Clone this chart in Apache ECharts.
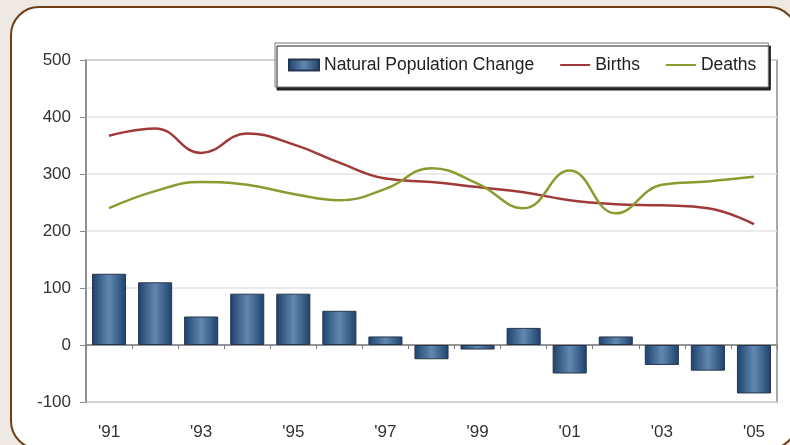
<!DOCTYPE html>
<html lang="en">
<head>
    <meta charset="utf-8">
    <style>
        html, body { margin: 0; padding: 0; background: #efe9e3; }
        #chart { width: 790px; height: 445px; }
    </style>
</head>
<body>
<div id="chart"></div>
<script type="text/javascript" src="https://cdn.jsdelivr.net/npm/echarts@6/dist/echarts.min.js"></script>
<script type="text/javascript">

var years = ["'91", "'92", "'93", "'94", "'95", "'96", "'97", "'98", "'99", "'00", "'01", "'02", "'03", "'04", "'05"];
var naturalChange = [125, 110, 50, 90, 90, 60, 15, -25, -8, 30, -50, 15, -35, -45, -85];
var births = [367, 380, 337, 371, 352, 320, 292, 286, 277, 268, 254, 247, 245, 240, 212];
var deaths = [240, 270, 286, 281, 265, 254, 274, 310, 283, 240, 306, 231, 281, 287, 295];

var chart = echarts.init(document.getElementById('chart'));

var barColor = new echarts.graphic.LinearGradient(0, 0, 1, 0, [
    { offset: 0, color: '#1d416c' },
    { offset: 0.5, color: '#6288b0' },
    { offset: 1, color: '#1d416c' }
]);

var font = 'Liberation Sans, Arial, sans-serif';

var option = {
    backgroundColor: '#efe9e3',
    animation: false,
    textStyle: { fontFamily: font },
    graphic: [{
        type: 'rect',
        z: -10,
        shape: { x: 11, y: 7, width: 786, height: 442, r: 28 },
        style: { fill: '#ffffff', stroke: '#6e3f17', lineWidth: 2 }
    }],
    legend: {
        left: 275,
        top: 43,
        padding: [13, 12, 13, 13],
        itemGap: 26,
        itemWidth: 30,
        itemHeight: 11,
        backgroundColor: '#ffffff',
        borderColor: '#777777',
        borderWidth: 1,
        shadowColor: '#222222',
        shadowOffsetX: 2,
        shadowOffsetY: 3,
        shadowBlur: 0,
        textStyle: { fontSize: 17.5, color: '#222222', fontFamily: font },
        data: [
            { name: 'Natural Population Change', icon: 'rect' },
            { name: 'Births', icon: 'path://M0,5 L30,5 L30,7 L0,7 Z' },
            { name: 'Deaths', icon: 'path://M0,5 L30,5 L30,7 L0,7 Z' }
        ]
    },
    grid: {
        left: 86,
        right: 13,
        top: 60,
        bottom: 43,
        show: true,
        borderColor: '#8a8a8a',
        borderWidth: 1.5,
        backgroundColor: 'transparent'
    },
    xAxis: [{
        type: 'category',
        data: years,
        position: 'bottom',
        axisLine: { onZero: true, lineStyle: { color: '#7a7a7a', width: 1.5 } },
        axisTick: { show: true, alignWithLabel: false, length: 4, lineStyle: { color: '#7a7a7a' } },
        axisLabel: { show: false }
    }, {
        type: 'category',
        data: years,
        position: 'bottom',
        axisLine: { show: false },
        axisTick: { show: false },
        axisLabel: {
            interval: 1,
            margin: 22,
            fontSize: 17,
            color: '#333333'
        }
    }],
    yAxis: {
        type: 'value',
        min: -100,
        max: 500,
        interval: 100,
        axisLine: { show: true, lineStyle: { color: '#8a8a8a', width: 1.5 } },
        axisTick: { show: true, length: 6, lineStyle: { color: '#8a8a8a' } },
        axisLabel: { fontSize: 17, color: '#333333', margin: 15 },
        splitLine: { lineStyle: { color: '#e3e3e3', width: 1.5 } }
    },
    series: [{
        name: 'Natural Population Change',
        type: 'bar',
        xAxisIndex: 0,
        data: naturalChange,
        barCategoryGap: '26%',
        itemStyle: { color: barColor, borderColor: '#26374f', borderWidth: 1 }
    }, {
        name: 'Births',
        type: 'line',
        xAxisIndex: 0,
        data: births,
        smooth: 0.45,
        symbol: 'none',
        color: '#a03a3a',
        lineStyle: { width: 2.5, color: '#a03a3a' }
    }, {
        name: 'Deaths',
        type: 'line',
        xAxisIndex: 0,
        data: deaths,
        smooth: 0.45,
        symbol: 'none',
        color: '#8c9a30',
        lineStyle: { width: 2.5, color: '#8c9a30' }
    }]
};

chart.setOption(option);

</script>
</body>
</html>
